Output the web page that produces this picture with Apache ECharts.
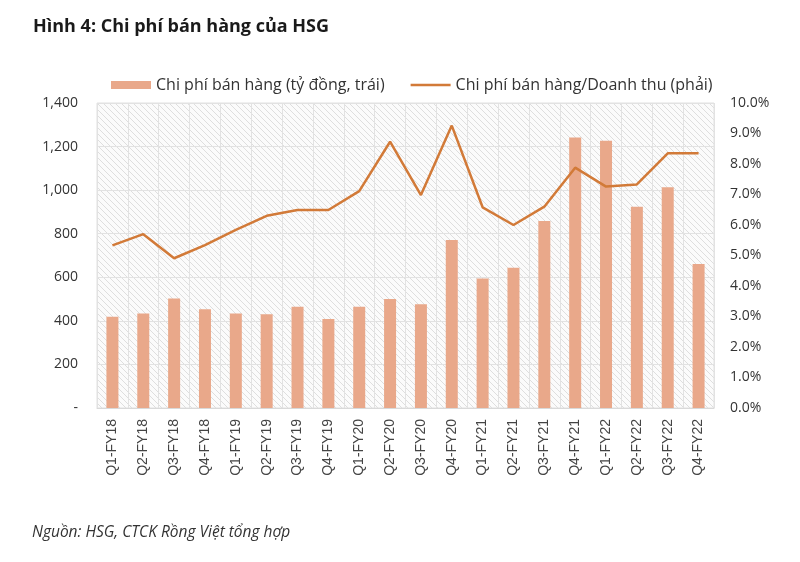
<!DOCTYPE html>
<html>
<head>
<meta charset="utf-8">
<script src="https://cdn.jsdelivr.net/npm/echarts@6/dist/echarts.min.js"></script>
<style>
html,body{margin:0;padding:0;background:#fff;}
#chart{width:800px;height:562px;}
</style>
</head>
<body>
<div id="chart"></div>
<script>
const categories = ["Q1-FY18","Q2-FY18","Q3-FY18","Q4-FY18","Q1-FY19","Q2-FY19","Q3-FY19","Q4-FY19","Q1-FY20","Q2-FY20","Q3-FY20","Q4-FY20","Q1-FY21","Q2-FY21","Q3-FY21","Q4-FY21","Q1-FY22","Q2-FY22","Q3-FY22","Q4-FY22"];
const sellingExpense = [419,434,503,453,434,430,465,408,465,500,476,771,595,644,858,1242,1227,924,1013,661];
const expenseToRevenue = [5.33,5.70,4.91,5.34,5.84,6.30,6.49,6.49,7.11,8.73,6.98,9.26,6.58,6.00,6.60,7.88,7.26,7.33,8.35,8.35];
const leftTicks = {min:0, max:1400, interval:200};
const rightTicks = {min:0, max:10, interval:1};

const barName = "Chi phí bán hàng (tỷ đồng, trái)";
const lineName = "Chi phí bán hàng/Doanh thu (phải)";

// hatch pattern
const pc = document.createElement('canvas');
pc.width = 6; pc.height = 6;
const ctx = pc.getContext('2d');
ctx.fillStyle = '#fbfbfb';
ctx.fillRect(0,0,6,6);
ctx.strokeStyle = '#dedede';
ctx.lineWidth = 1;
ctx.beginPath();
ctx.moveTo(-1,-1); ctx.lineTo(7,7);
ctx.moveTo(-4,2); ctx.lineTo(4,10);
ctx.moveTo(2,-4); ctx.lineTo(10,4);
ctx.stroke();

const lineIcon = 'path://M0,0L40,0L40,0.001Z M0,2.8L40,2.8L40,5.2L0,5.2Z M0,8L40,8L40,8.001Z';

const chart = echarts.init(document.getElementById('chart'), null, {renderer:'canvas'});
const font = 'Open Sans';
chart.setOption({
  animation:false,
  backgroundColor:'#ffffff',
  title:{
    text:'Hình 4: Chi phí bán hàng của HSG',
    left:28, top:13,
    textStyle:{fontFamily:font, fontWeight:'bold', fontSize:18, color:'#1a1a1a'}
  },
  graphic:[{
    type:'text', left:32, top:525,
    style:{text:'Nguồn: HSG, CTCK Rồng Việt tổng hợp', font:'italic 15.5px "Open Sans"', fill:'#333'}
  }],
  legend:{
    top:72, left:106,
    itemGap:26, itemWidth:40, itemHeight:8,
    textStyle:{fontFamily:font, fontSize:16, color:'#333'},
    data:[{name:barName, icon:'rect'},{name:lineName, icon:lineIcon}]
  },
  grid:{
    left:97, right:86, top:103, bottom:154,
    show:true,
    backgroundColor:{image:pc, repeat:'repeat'},
    borderColor:'#e0e0e0', borderWidth:1
  },
  xAxis:{
    type:'category', data:categories,
    axisLine:{show:true, lineStyle:{color:'#d9d9d9'}},
    axisTick:{show:false},
    splitLine:{show:true, lineStyle:{color:'#e2e2e2'}},
    axisLabel:{rotate:90, interval:0, fontFamily:'Liberation Sans', fontSize:14, color:'#444', margin:11}
  },
  yAxis:[{
    type:'value', min:leftTicks.min, max:leftTicks.max, interval:leftTicks.interval,
    position:'left',
    axisLine:{show:false}, axisTick:{show:false},
    splitLine:{show:true, lineStyle:{color:'#e2e2e2'}},
    axisLabel:{fontFamily:font, fontSize:14, color:'#333', margin:19,
      formatter:v=> v===0 ? '-' : v.toLocaleString('en-US')}
  },{
    type:'value', min:rightTicks.min, max:rightTicks.max, interval:rightTicks.interval,
    position:'right',
    axisLine:{show:false}, axisTick:{show:false},
    splitLine:{show:false},
    axisLabel:{fontFamily:font, fontSize:14, color:'#333', margin:16,
      formatter:v=> v.toFixed(1)+'%'}
  }],
  series:[{
    name:barName, type:'bar', data:sellingExpense, yAxisIndex:0,
    barWidth:12, itemStyle:{color:'#E9A88A'}
  },{
    name:lineName, type:'line', data:expenseToRevenue, yAxisIndex:1,
    symbol:'none', lineStyle:{color:'#D27A38', width:2.5}, itemStyle:{color:'#D27A38'}
  }]
});
</script>
</body>
</html>
